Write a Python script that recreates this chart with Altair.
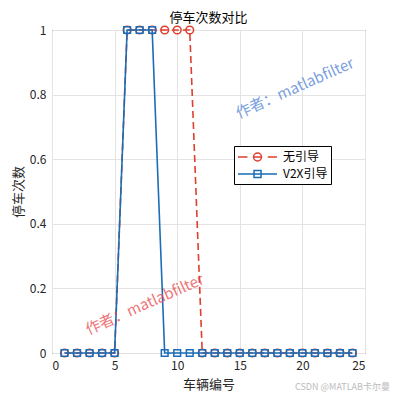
import altair as alt
import pandas as pd

# ---- data ----
vehicle = list(range(1, 25))
no_guide = [0, 0, 0, 0, 0, 1, 1, 1, 1, 1, 1, 0, 0, 0, 0, 0, 0, 0, 0, 0, 0, 0, 0, 0]
v2x = [0, 0, 0, 0, 0, 1, 1, 1, 0, 0, 0, 0, 0, 0, 0, 0, 0, 0, 0, 0, 0, 0, 0, 0]
series_names = ["无引导", "V2X引导"]
series_colors = ["#DE3F2E", "#1A6DB6"]

wm_text = ["作者：matlabfilter", "作者：matlabfilter"]
wm_x = [7.4, 19.4]
wm_y = [0.15, 0.82]
wm_colors = ["#E8474A", "#4D80D4"]

title_text = "停车次数对比"
x_title = "车辆编号"
y_title = "停车次数"
footer = "CSDN @MATLAB卡尔曼"

FONT = "Noto Sans CJK SC"

df = pd.DataFrame({
    "x": vehicle * 2,
    "y": no_guide + v2x,
    "series": [series_names[0]] * len(vehicle) + [series_names[1]] * len(vehicle),
})
df_red = df[df.series == series_names[0]]
df_blue = df[df.series == series_names[1]]
wm = pd.DataFrame({"x": wm_x, "y": wm_y, "t": wm_text, "c": wm_colors})

# legend symbols (line + marker) as custom paths
red_sym = ("M-1,0L0.35,0M1.25,0L2.35,0M3.25,0L4.57,0"
           "M1.22,0A0.57,0.57 0 1,0 2.36,0A0.57,0.57 0 1,0 1.22,0")
blue_sym = ("M-1,0L4.57,0"
            "M1.29,-0.5L2.29,-0.5L2.29,0.5L1.29,0.5Z")

xs = alt.X("x:Q", scale=alt.Scale(domain=[0, 25], nice=False),
           axis=alt.Axis(values=[0, 5, 10, 15, 20, 25], title=x_title, format="d"))
ys = alt.Y("y:Q", scale=alt.Scale(domain=[0, 1], nice=False),
           axis=alt.Axis(values=[0, 0.2, 0.4, 0.6, 0.8, 1], title=y_title, format=".1~f"))
color_scale = alt.Scale(domain=series_names, range=series_colors)

red_line = alt.Chart(df_red).mark_line(strokeWidth=1.6, strokeDash=[7, 4], color=series_colors[0]).encode(
    x=xs, y=ys)
red_pts = alt.Chart(df_red).mark_point(shape="circle", size=60, filled=False, strokeWidth=1.5,
                                       color=series_colors[0], opacity=1).encode(x="x:Q", y="y:Q")
blue_line = alt.Chart(df_blue).mark_line(strokeWidth=1.6, color=series_colors[1]).encode(
    x="x:Q", y="y:Q")
blue_pts = alt.Chart(df_blue).mark_point(shape="square", size=45, filled=False, strokeWidth=1.5,
                                         color=series_colors[1], opacity=1).encode(x="x:Q", y="y:Q")

leg = dict(title=None, orient="none", legendX=182, legendY=116,
           symbolSize=196, symbolOpacity=1, symbolStrokeWidth=1.5,
           labelOffset=30, labelFont=FONT, labelFontSize=12,
           labelColor="#000000", rowPadding=2,
           strokeColor="#000000", fillColor="#ffffff", padding=3)

legend_layer = alt.Chart(df).mark_point(opacity=0, filled=False, strokeWidth=1.5).encode(
    x="x:Q", y="y:Q",
    color=alt.Color("series:N", scale=color_scale, sort=series_names, legend=alt.Legend(**leg)),
    shape=alt.Shape("series:N", scale=alt.Scale(domain=series_names, range=[red_sym, blue_sym]),
                    sort=series_names, legend=alt.Legend(**leg)),
)

watermarks = alt.Chart(wm).mark_text(angle=336, font=FONT, fontSize=15, opacity=0.75).encode(
    x="x:Q", y="y:Q", text="t:N", color=alt.Color("c:N", scale=None))

footer_layer = alt.Chart(pd.DataFrame({"t": [footer]})).mark_text(
    font=FONT, fontSize=9, color="#bbbbbb", align="right", baseline="middle").encode(
    x=alt.value(338), y=alt.value(357), text="t:N")

chart = alt.layer(red_line, red_pts, blue_line, blue_pts, legend_layer, watermarks, footer_layer).properties(
    width=313, height=323,
    title=alt.TitleParams(title_text, font=FONT, fontSize=13, fontWeight="normal", color="#000000", offset=-2),
    padding={"left": 4, "top": 4, "right": 0, "bottom": 0},
).configure_view(stroke="#262626", strokeWidth=1).configure_axis(
    grid=True, gridColor="#e3e3e3", gridWidth=1, domain=False, tickSize=0,
    labelFont=FONT, labelFontSize=12, labelColor="#262626", labelPadding=6,
    titleFont=FONT, titleFontSize=13, titleColor="#262626", titleFontWeight="normal",
).configure_axisY(titlePadding=4).configure_axisX(titlePadding=7, labelPadding=7)

chart.save("out.html", embed_options={"renderer": "svg", "actions": False})
